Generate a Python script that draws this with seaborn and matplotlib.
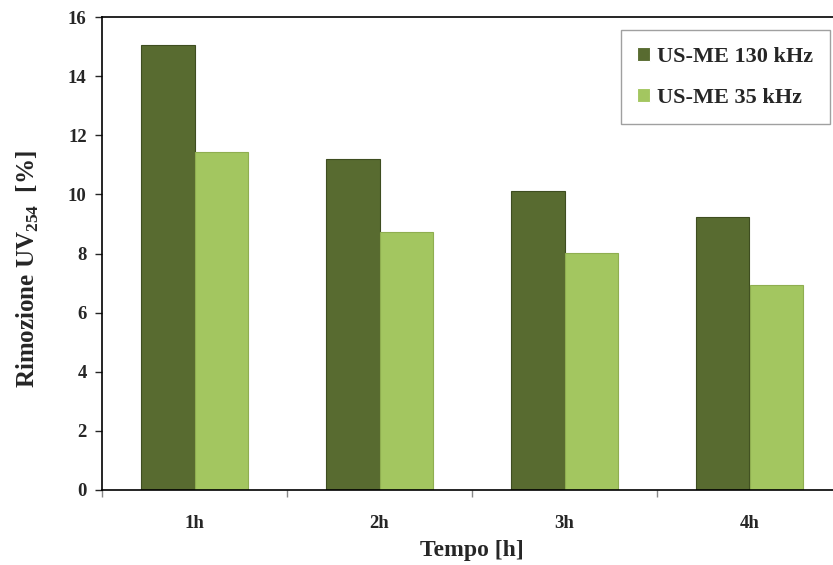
import pandas as pd
import matplotlib
matplotlib.use("Agg")
import matplotlib.pyplot as plt
import seaborn as sns

# Data
tempi = ["1h", "2h", "3h", "4h"]
serie = ["US-ME 130 kHz", "US-ME 35 kHz"]
val_130 = [15.05, 11.2, 10.1, 9.22]
val_35 = [11.45, 8.72, 8.02, 6.95]
colori = ["#586b30", "#a3c660"]

df = pd.DataFrame({
    "Tempo": tempi * 2,
    "Serie": [serie[0]] * 4 + [serie[1]] * 4,
    "Rimozione": val_130 + val_35,
})

sns.set_style("white")
plt.rcParams["font.family"] = ["Liberation Serif", "DejaVu Serif"]
plt.rcParams["font.weight"] = "bold"
plt.rcParams["mathtext.fontset"] = "custom"
plt.rcParams["mathtext.rm"] = "Liberation Serif:bold"
plt.rcParams["mathtext.bf"] = "Liberation Serif:bold"

fig = plt.figure(figsize=(8.33, 5.65), dpi=100)
ax = fig.add_axes([102 / 833, 75 / 565, 740 / 833, 473 / 565])

sns.barplot(data=df, x="Tempo", y="Rimozione", hue="Serie", palette=colori,
            width=0.575, saturation=1, linewidth=0.8, ax=ax, legend=True)
for i, patch in enumerate(ax.patches):
    if i < 4:
        patch.set_edgecolor("#3e4d20")
    elif i < 8:
        patch.set_edgecolor("#8fae50")

ax.set_xlim(-0.5, 3.5)
ax.set_ylim(0, 16)
ax.set_yticks(range(0, 17, 2))
ax.set_xticks([-0.5, 0.5, 1.5, 2.5, 3.5], minor=True)
ax.tick_params(axis="x", which="major", length=0, pad=18, labelsize=13.5)
ax.tick_params(axis="x", which="minor", length=5, width=1, color="#888888", direction="out")
ax.tick_params(axis="y", length=5, width=1, direction="out", labelsize=13.5, pad=6)
ax.tick_params(bottom=True, left=True, which="both")
for lab in ax.get_xticklabels() + ax.get_yticklabels():
    lab.set_fontweight("bold")

for s in ax.spines.values():
    s.set_color("black")
    s.set_linewidth(1.2)

ax.set_xlabel("Tempo [h]", fontsize=17, fontweight="bold", labelpad=6)
ax.set_ylabel("Rimozione UV$_{254}$  [%]", fontsize=18, fontweight="bold")
ax.yaxis.set_label_coords(-0.083, 0.468)

leg = ax.legend(loc="upper right", bbox_to_anchor=(830 / 833, 1 - 30 / 565),
                bbox_transform=fig.transFigure, frameon=True, fancybox=False,
                prop={"family": "Liberation Serif", "weight": "bold", "size": 16},
                handlelength=0.55, handleheight=0.55, handletextpad=0.35,
                labelspacing=0.95, borderpad=0.75, borderaxespad=0)
leg.get_frame().set_edgecolor("#888888")
leg.get_frame().set_linewidth(1.0)

fig.savefig("out.png", dpi=100)
